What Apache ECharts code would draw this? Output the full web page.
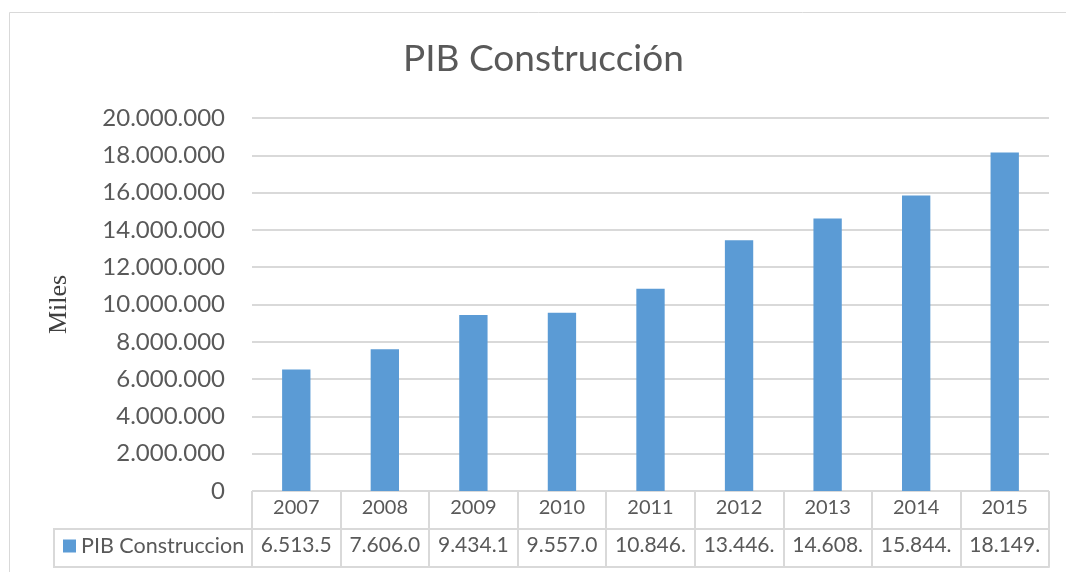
<!DOCTYPE html>
<html>
<head>
<meta charset="utf-8">
<script src="https://cdn.jsdelivr.net/npm/echarts@6/dist/echarts.min.js"></script>
<style>
  html, body { margin: 0; padding: 0; background: #fff; }
  #chart { width: 1066px; height: 572px; }
</style>
</head>
<body>
<div id="chart"></div>
<script>
// datos (miles)
const years = ['2007', '2008', '2009', '2010', '2011', '2012', '2013', '2014', '2015'];
const pibConstruccion = [6513500, 7606000, 9434100, 9557000, 10846000, 13446000, 14608000, 15844000, 18149000];
const seriesName = 'PIB Construccion';

const gray = '#595959';
const lineGray = '#d9d9d9';
const sans = 'Lato, "Open Sans", sans-serif';

// separador de miles con punto, como en Excel es-ES
function fmt(v) {
  return String(Math.round(v)).replace(/\B(?=(\d{3})+(?!\d))/g, '.');
}

// la tabla de datos corta el texto a lo que cabe en la celda
function cellText(v) {
  return fmt(v).slice(0, 7);
}

const chart = echarts.init(document.getElementById('chart'));

const option = {
  backgroundColor: '#fff',
  animation: false,
  title: {
    text: 'PIB Construcción',
    left: 403,
    top: 41,
    padding: 0,
    textStyle: { fontFamily: sans, fontSize: 37, fontWeight: 'normal', color: gray }
  },
  legend: {
    data: [seriesName],
    left: 63,
    top: 535,
    padding: 0,
    itemWidth: 13,
    itemHeight: 13,
    icon: 'rect',
    textStyle: { fontFamily: sans, fontSize: 21.5, color: gray }
  },
  grid: { left: 252, right: 17, top: 118, bottom: 81 },
  xAxis: [
    {
      type: 'category',
      data: years,
      position: 'bottom',
      axisLine: { lineStyle: { color: lineGray, width: 1 } },
      axisTick: { show: true, length: 76, lineStyle: { color: lineGray, width: 2 } },
      axisLabel: { interval: 0, margin: 7, fontFamily: sans, fontSize: 20, color: gray }
    },
    {
      type: 'category',
      data: years,
      position: 'bottom',
      offset: 38,
      axisLine: { lineStyle: { color: lineGray, width: 2 } },
      axisTick: { show: false },
      axisLabel: {
        interval: 0,
        hideOverlap: false,
        margin: 6,
        fontFamily: sans,
        fontSize: 21,
        color: gray,
        formatter: (val, idx) => cellText(pibConstruccion[idx])
      }
    },
    {
      type: 'category',
      data: years,
      position: 'bottom',
      offset: 76,
      axisLine: { lineStyle: { color: lineGray, width: 2 } },
      axisTick: { show: false },
      axisLabel: { show: false }
    }
  ],
  yAxis: {
    type: 'value',
    min: 0,
    max: 20000000,
    interval: 2000000,
    name: 'Miles',
    nameLocation: 'middle',
    nameGap: 180,
    nameRotate: 90,
    nameTextStyle: { fontFamily: '"Liberation Serif", serif', fontSize: 26, color: '#404040' },
    axisLine: { show: false },
    axisTick: { show: false },
    axisLabel: { margin: 27, fontFamily: sans, fontSize: 24, color: gray, formatter: fmt },
    splitLine: { lineStyle: { color: lineGray, width: 2 } }
  },
  series: [
    {
      name: seriesName,
      type: 'bar',
      data: pibConstruccion,
      barWidth: '32%',
      itemStyle: { color: '#5b9bd5' }
    }
  ],
  graphic: [
    // borde del area del grafico
    {
      type: 'rect',
      shape: { x: 9.5, y: 12.5, width: 1100, height: 600 },
      style: { fill: null, stroke: lineGray, lineWidth: 1 },
      silent: true
    },
    // celda de la leyenda en la tabla de datos
    {
      type: 'rect',
      shape: { x: 54, y: 529, width: 198, height: 38 },
      style: { fill: null, stroke: lineGray, lineWidth: 2 },
      silent: true
    }
  ]
};

chart.setOption(option);
</script>
</body>
</html>
